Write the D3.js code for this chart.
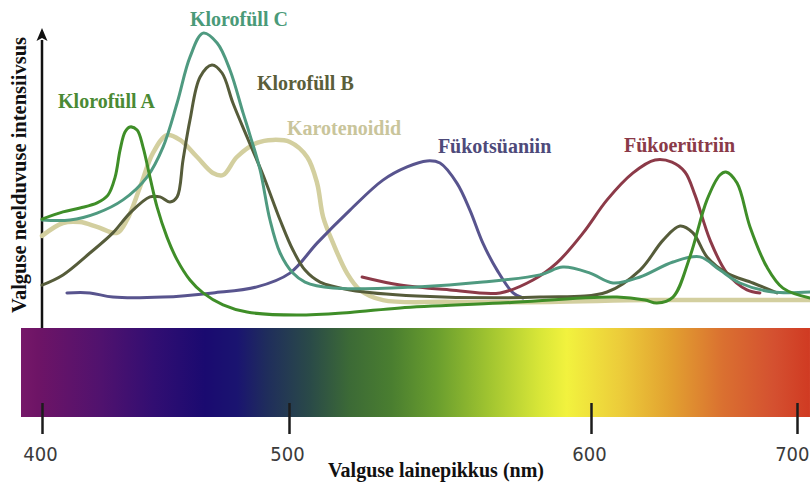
<!DOCTYPE html>
<html lang="et">
<head>
<meta charset="utf-8">
<style>
    body { margin: 0; background: #fff; }
    .lbl { font-family: "Liberation Serif", "Times New Roman", serif; font-weight: bold; font-size: 20px; }
    .tick text { font-family: "DejaVu Sans Condensed", "Liberation Sans Narrow", "Roboto", sans-serif; font-stretch: condensed; font-size: 20px; fill: #3b3b3b; }
</style>
<script src="https://cdn.jsdelivr.net/npm/d3@7"></script>
</head>
<body>
<script>
    var width = 810, height = 488;

    // wavelength (nm) and absorption intensity (0..100)
    var klorofyllA = [[400,36.3],[408.5,38.7],[415.4,40],[422.3,41.7],[426.7,44.3],[429.6,50.3],[431.6,59.3],[433.6,65.3],[435.6,67],[438.5,66],[440.9,60.3],[443.7,50.3],[446.6,40.3],[450.6,30.3],[454.7,22.7],[459.9,16],[465.2,11.7],[473.3,7.7],[483,5.3],[502.6,4.3],[520.2,5.2],[536.8,6.7],[569.9,8.3],[612.6,10.3],[626.2,9.3],[632,8.3],[639.8,10.3],[648,23.7],[656.3,42.7],[662.6,51],[665.5,52],[670.9,48.3],[677.2,33.7],[685.4,20.3],[693.2,13.3],[706.3,10]];
    var klorofyllB = [[400,14.3],[408.5,17.7],[419.4,25],[428.7,31.7],[435.6,38.3],[443.7,43.7],[447.8,43.7],[451.8,42],[454.7,43.7],[457.1,56],[459.9,69.3],[464,83.7],[468.8,87.7],[472.9,85],[477.3,75],[483,63.7],[489.5,51],[496.4,36],[501.3,26],[505.3,19.3],[510.3,15.3],[520.2,12.7],[542.4,10.7],[583.1,10.3],[607.8,12],[623.8,19.3],[635,29.3],[643.2,34],[649.5,31.7],[656.3,23.7],[666,18.3],[678.6,15],[690.3,11.7]];
    var klorofyllC = [[400,36],[411.3,36],[422.3,38.3],[432.8,42.7],[442.5,50.3],[449,60.3],[454.7,75],[459.9,90.3],[465.2,98.3],[470.9,95],[476.1,86],[481.4,71.7],[484.2,64.3],[488.3,52.7],[492.3,36],[496.4,25],[501.3,18.3],[505.3,15.3],[514.6,13.3],[542.4,13.7],[564.2,15.3],[583.1,17.7],[590.7,20.3],[599.7,18.3],[610.7,15],[623.8,17],[639.8,22],[652.9,23.7],[662.6,19.3],[672.3,15],[688.3,12],[706.3,12]];
    var karotenoidid = [[400,30.7],[408.5,35],[415.4,35.3],[422.3,33.7],[430.4,31.7],[434.4,36],[439.7,47],[444.9,58.3],[450.6,64.3],[455.9,62.7],[462.8,57],[469.2,51.7],[473.3,51],[478.9,57],[487,61.7],[493.5,62.7],[500.3,62],[506,57],[509.3,48.3],[511.3,37],[514.6,28.3],[519.2,18.3],[523.5,12.7],[531.1,9.3],[553.3,8.7],[586.4,8.7],[628.6,9.3],[706.3,9.3]];
    var fykotsyaniin = [[410.1,11.7],[419.4,11.7],[428.7,10.3],[449,10.3],[469.2,11.7],[487,13.7],[500.3,18.3],[509.3,28.3],[520.2,39.3],[531.1,49.3],[539.1,53.7],[545.7,55.7],[550,55],[555.6,48.3],[559.9,39.3],[564.2,28.3],[568.9,19.3],[574.2,11.7],[577.5,10]];
    var fykoerytriin = [[524.2,17],[536.8,14.3],[553.3,12.7],[569.9,11.7],[580.8,16],[588.7,21.7],[597.4,31.7],[607.8,42.7],[620.4,51.7],[631.1,56],[639.3,55.3],[645.6,52],[650.5,44.3],[657.8,29.3],[666,18.3],[675.7,12.7],[682,11.7]];

    var names   = ["Klorofüll A", "Klorofüll B", "Klorofüll C", "Karotenoidid", "Fükotsüaniin", "Fükoerütriin"];
    var series  = [klorofyllA, klorofyllB, klorofyllC, karotenoidid, fykotsyaniin, fykoerytriin];
    var lineColors  = ["#3f8e28", "#565c3a", "#4f9a80", "#d3cf9f", "#58548e", "#8c3a48"];
    var labelColors = ["#4a8a34", "#5a5e3a", "#4a9a78", "#c9c59b", "#4e4a7a", "#8a3a48"];
    // label anchor (start, baseline) in wavelength / intensity units
    var labelAt = [[406.5,73.3],[487,79.3],[459.9,100.7],[499.2,64.3],[549.3,58.3],[616,58.7]];

    var tickValues = [400, 500, 600, 700];
    // visible spectrum under the axis: wavelength -> colour
    var spectrumWl  = [391.5, 398, 424, 445, 466, 479, 491, 507, 520, 534, 549, 566, 583, 592, 614, 639, 664, 689, 706.3];
    var spectrumCol = ["#761869", "#6e1466", "#50126e", "#320e72", "#1a0a70", "#1a1470", "#1f2d5c", "#2a4a48", "#3c6a36", "#4a7e30", "#6a9e2e", "#a0c430", "#d8e638", "#f2f23e", "#eccc3a", "#e2a030", "#da7030", "#d45030", "#d03a22"];

    var svg = d3.select("body").append("svg")
        .attr("width", width)
        .attr("height", height);

    // the printed wavelength axis is not evenly spaced
    var xscale = d3.scaleLinear()
        .domain([400, 500, 600, 700])
        .range([42, 289, 591, 797]);
    var yscale = d3.scaleLinear()
        .domain([0, 100])
        .range([328, 28]);

    // spectrum bar
    var x0 = xscale(spectrumWl[0]), x1 = xscale(spectrumWl[spectrumWl.length - 1]);
    var grad = svg.append("defs").append("linearGradient")
        .attr("id", "spectrum")
        .attr("gradientUnits", "userSpaceOnUse")
        .attr("x1", x0).attr("x2", x1).attr("y1", 0).attr("y2", 0);
    grad.selectAll("stop")
        .data(spectrumWl)
        .enter().append("stop")
        .attr("offset", function(d) { return (xscale(d) - x0) / (x1 - x0); })
        .attr("stop-color", function(d, i) { return spectrumCol[i]; });

    svg.append("rect")
        .attr("x", x0).attr("y", 328)
        .attr("width", x1 - x0).attr("height", 89)
        .attr("fill", "url(#spectrum)");

    // wavelength axis
    var xAxis = d3.axisBottom(xscale)
        .tickValues(tickValues)
        .tickSize(31)
        .tickPadding(13);
    var gx = svg.append("g")
        .attr("transform", "translate(0,403)")
        .call(xAxis);
    gx.select(".domain").remove();
    gx.selectAll(".tick line").attr("stroke", "#1c1c1c").attr("stroke-width", 2.5);
    gx.selectAll(".tick text").attr("dx", "-2");
    // last label sits against the right edge of the picture
    gx.selectAll(".tick text").filter(function(d) { return d == 700; })
        .attr("text-anchor", "end")
        .attr("dx", "12");

    // vertical axis with an arrow head
    svg.append("line")
        .attr("x1", xscale(400)).attr("x2", xscale(400))
        .attr("y1", yscale(0)).attr("y2", yscale(96))
        .attr("stroke", "#111").attr("stroke-width", 2.5);
    svg.append("path")
        .attr("d", "M" + xscale(400) + ",28 l-5.5,13 l5.5,-3 l5.5,3 z")
        .attr("fill", "#111");

    // absorption curves
    var line = d3.line()
        .x(function(d) { return xscale(d[0]); })
        .y(function(d) { return yscale(d[1]); })
        .curve(d3.curveCatmullRom.alpha(0.5));

    var order = [3, 4, 5, 1, 2, 0];
    order.forEach(function(i) {
        svg.append("path")
            .datum(series[i])
            .attr("fill", "none")
            .attr("stroke", lineColors[i])
            .attr("stroke-width", i == 3 ? 4.5 : 3)
            .attr("stroke-linejoin", "round")
            .attr("stroke-linecap", "round")
            .attr("d", line);
    });

    // curve names
    svg.selectAll(".lbl")
        .data(names)
        .enter().append("text")
        .attr("class", "lbl")
        .attr("x", function(d, i) { return xscale(labelAt[i][0]); })
        .attr("y", function(d, i) { return yscale(labelAt[i][1]); })
        .attr("fill", function(d, i) { return labelColors[i]; })
        .text(function(d) { return d; });

    // axis titles
    svg.append("text")
        .attr("class", "lbl")
        .attr("transform", "translate(26,175) rotate(-90)")
        .attr("text-anchor", "middle")
        .attr("fill", "#111")
        .style("font-size", "20.5px")
        .text("Valguse neelduvuse intensiivsus");

    svg.append("text")
        .attr("class", "lbl")
        .attr("x", 436).attr("y", 477)
        .attr("text-anchor", "middle")
        .attr("fill", "#111")
        .text("Valguse lainepikkus (nm)");
</script>
</body>
</html>
